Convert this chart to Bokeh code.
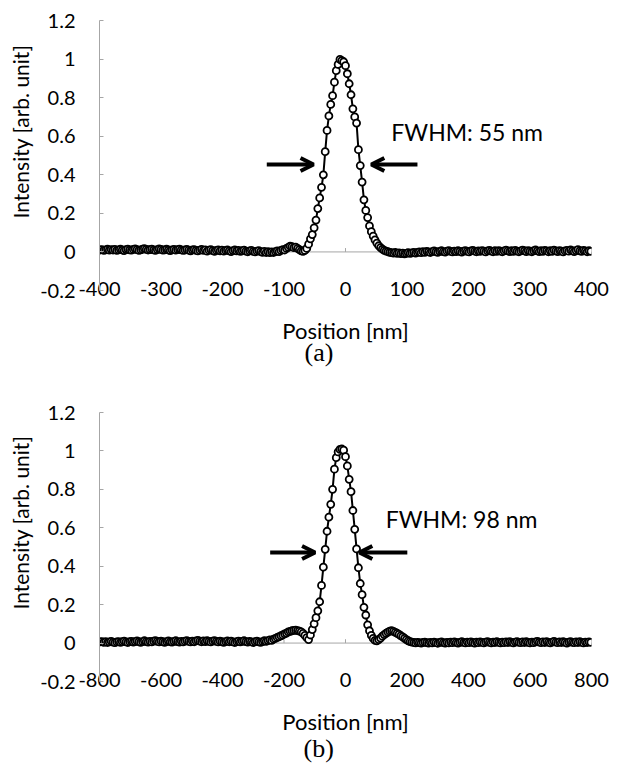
from bokeh.plotting import figure
from bokeh.layouts import column
from bokeh.models import (Range1d, FixedTicker, CustomJSTickFormatter, Span,
                          Arrow, OpenHead, Label, Title)
from bokeh.embed import file_html
from bokeh.resources import INLINE

# ---------------- data ----------------
pos_a = [-399,-396,-393,-390,-387,-384,-381,-378,-375,-372,
         -369,-366,-363,-360,-357,-354,-351,-348,-345,-342,
         -339,-336,-333,-330,-327,-324,-321,-318,-315,-312,
         -309,-306,-303,-300,-297,-294,-291,-288,-285,-282,
         -279,-276,-273,-270,-267,-264,-261,-258,-255,-252,
         -249,-246,-243,-240,-237,-234,-231,-228,-225,-222,
         -219,-216,-213,-210,-207,-204,-201,-198,-195,-192,
         -189,-186,-183,-180,-177,-174,-171,-168,-165,-162,
         -159,-156,-153,-150,-147,-144,-141,-138,-135,-132,
         -129,-126,-123,-120,-117,-114,-111,-108,-105,-102,
         -99,-96,-93,-90,-87,-84,-81,-78,-75,-72,
         -69,-66,-63,-60,-57,-54,-51,-48,-45,-42,
         -39,-36,-33,-30,-27,-24,-21,-18,-15,-12,
         -9,-6,-3,0,3,6,9,12,15,18,
         21,24,27,30,33,36,39,42,45,48,
         51,54,57,60,63,66,69,72,75,78,
         81,84,87,90,93,96,99,102,105,108,
         111,114,117,120,123,126,129,132,135,138,
         141,144,147,150,153,156,159,162,165,168,
         171,174,177,180,183,186,189,192,195,198,
         201,204,207,210,213,216,219,222,225,228,
         231,234,237,240,243,246,249,252,255,258,
         261,264,267,270,273,276,279,282,285,288,
         291,294,297,300,303,306,309,312,315,318,
         321,324,327,330,333,336,339,342,345,348,
         351,354,357,360,363,366,369,372,375,378,
         381,384,387,390,393,396,399]

int_a = [0.010,0.012,0.008,0.011,0.014,0.009,0.012,0.010,0.013,0.008,
         0.011,0.014,0.010,0.007,0.012,0.015,0.011,0.009,0.013,0.016,
         0.012,0.008,0.011,0.014,0.017,0.013,0.010,0.012,0.015,0.011,
         0.008,0.012,0.016,0.013,0.009,0.011,0.014,0.010,0.007,0.011,
         0.013,0.009,0.012,0.015,0.011,0.008,0.010,0.013,0.009,0.006,
         0.010,0.012,0.008,0.005,0.009,0.013,0.008,0.011,0.004,0.009,
         0.012,0.007,0.003,0.008,0.011,0.006,0.009,0.004,0.008,0.010,
         0.005,0.002,0.007,0.010,0.005,0.008,0.003,0.006,0.009,0.004,
         0.001,0.005,0.008,0.003,0.000,0.004,0.007,0.002,-0.002,0.003,
         -0.003,0.001,-0.004,0.000,-0.003,0.002,0.005,0.002,0.008,0.012,
         0.010,0.018,0.024,0.030,0.027,0.022,0.025,0.018,0.012,0.006,
         0.003,0.008,0.018,0.040,0.068,0.090,0.125,0.165,0.225,0.280,
         0.335,0.400,0.520,0.630,0.705,0.765,0.810,0.880,0.940,0.972,
         0.998,0.992,0.986,0.966,0.924,0.872,0.815,0.742,0.700,0.668,
         0.530,0.448,0.362,0.270,0.215,0.178,0.135,0.105,0.082,0.062,
         0.046,0.032,0.022,0.014,0.008,0.004,0.001,-0.002,-0.004,-0.006,
         -0.003,-0.008,-0.005,-0.009,-0.006,-0.010,-0.007,-0.004,-0.008,-0.005,
         -0.002,-0.006,-0.003,0.000,-0.004,0.001,-0.002,0.003,0.000,-0.003,
         0.002,0.005,0.001,-0.002,0.003,0.006,0.002,-0.001,0.004,0.007,
         0.003,0.000,0.004,0.002,0.006,0.003,-0.001,0.004,0.007,0.003,
         0.000,0.005,0.008,0.004,0.001,0.005,0.003,0.007,0.004,0.000,
         0.005,0.008,0.004,0.001,0.006,0.003,0.007,0.004,0.001,0.005,
         0.009,0.005,0.002,0.006,0.003,0.008,0.004,0.001,0.005,0.009,
         0.006,0.002,0.007,0.004,0.001,0.006,0.010,0.005,0.002,0.006,
         0.003,0.008,0.005,0.001,0.006,0.003,0.009,0.005,0.002,0.007,
         0.004,0.000,0.005,0.008,0.004,0.010,0.006,0.002,0.007,0.012,
         0.006,0.003,0.008,0.005,0.001,0.006,0.003]

pos_b = [-798,-792,-786,-780,-774,-768,-762,-756,-750,-744,
         -738,-732,-726,-720,-714,-708,-702,-696,-690,-684,
         -678,-672,-666,-660,-654,-648,-642,-636,-630,-624,
         -618,-612,-606,-600,-594,-588,-582,-576,-570,-564,
         -558,-552,-546,-540,-534,-528,-522,-516,-510,-504,
         -498,-492,-486,-480,-474,-468,-462,-456,-450,-444,
         -438,-432,-426,-420,-414,-408,-402,-396,-390,-384,
         -378,-372,-366,-360,-354,-348,-342,-336,-330,-324,
         -318,-312,-306,-300,-294,-288,-282,-276,-270,-264,
         -258,-252,-246,-240,-234,-228,-222,-216,-210,-204,
         -198,-192,-186,-180,-174,-168,-162,-156,-150,-144,
         -138,-132,-126,-120,-114,-108,-102,-96,-90,-84,
         -78,-72,-66,-60,-54,-48,-42,-36,-30,-24,
         -18,-12,-6,0,6,12,18,24,30,36,
         42,48,54,60,66,72,78,84,90,96,
         102,108,114,120,126,132,138,144,150,156,
         162,168,174,180,186,192,198,204,210,216,
         222,228,234,240,246,252,258,264,270,276,
         282,288,294,300,306,312,318,324,330,336,
         342,348,354,360,366,372,378,384,390,396,
         402,408,414,420,426,432,438,444,450,456,
         462,468,474,480,486,492,498,504,510,516,
         522,528,534,540,546,552,558,564,570,576,
         582,588,594,600,606,612,618,624,630,636,
         642,648,654,660,666,672,678,684,690,696,
         702,708,714,720,726,732,738,744,750,756,
         762,768,774,780,786,792,798]

int_b = [0.006,0.008,0.004,0.007,0.003,0.006,0.009,0.005,0.002,0.006,
         0.008,0.004,0.007,0.010,0.006,0.003,0.007,0.009,0.005,0.008,
         0.011,0.007,0.004,0.008,0.012,0.008,0.005,0.009,0.006,0.010,
         0.013,0.009,0.006,0.010,0.007,0.004,0.008,0.011,0.007,0.005,
         0.009,0.012,0.008,0.005,0.009,0.006,0.010,0.013,0.009,0.006,
         0.010,0.007,0.011,0.014,0.010,0.007,0.011,0.008,0.012,0.009,
         0.006,0.010,0.013,0.009,0.006,0.010,0.007,0.004,0.008,0.011,
         0.007,0.010,0.006,0.003,0.007,0.010,0.006,0.009,0.012,0.008,
         0.005,0.009,0.006,0.003,0.007,0.010,0.006,0.004,0.008,0.012,
         0.009,0.013,0.017,0.014,0.020,0.024,0.029,0.033,0.038,0.042,
         0.048,0.052,0.058,0.061,0.064,0.066,0.067,0.065,0.062,0.058,
         0.050,0.040,0.028,0.018,0.042,0.070,0.100,0.132,0.168,0.215,
         0.300,0.395,0.488,0.582,0.655,0.722,0.800,0.905,0.965,0.995,
         1.008,1.010,1.004,0.970,0.922,0.852,0.788,0.690,0.592,0.490,
         0.392,0.310,0.252,0.186,0.146,0.095,0.064,0.040,0.024,0.014,
         0.012,0.018,0.026,0.036,0.044,0.051,0.057,0.062,0.064,0.061,
         0.056,0.051,0.045,0.038,0.032,0.025,0.018,0.012,0.008,0.005,
         0.003,0.001,0.004,0.002,0.000,0.003,0.005,0.002,0.000,0.004,
         0.001,0.005,0.002,-0.001,0.003,0.006,0.002,0.000,0.004,0.001,
         0.005,0.002,0.006,0.003,0.000,0.004,0.007,0.003,0.001,0.005,
         0.002,0.006,0.003,0.000,0.005,0.002,0.006,0.004,0.001,0.005,
         0.008,0.004,0.001,0.005,0.003,0.007,0.004,0.001,0.005,0.002,
         0.006,0.003,0.007,0.004,0.001,0.005,0.008,0.004,0.002,0.006,
         0.003,0.007,0.004,0.001,0.005,0.002,0.006,0.009,0.005,0.002,
         0.006,0.003,0.008,0.004,0.001,0.005,0.009,0.005,0.002,0.006,
         0.003,0.007,0.004,0.000,0.005,0.008,0.004,0.002,0.006,0.003,
         0.007,0.004,0.001,0.005,0.003,0.006,0.004]

xticks_a = [-400, -300, -200, -100, 0, 100, 200, 300, 400]
xticks_b = [-800, -600, -400, -200, 0, 200, 400, 600, 800]
yticks = [-0.2, 0, 0.2, 0.4, 0.6, 0.8, 1.0, 1.2]

x_title = "Position [nm]"
y_title = "Intensity [arb. unit]"
fwhm_a = "FWHM: 55 nm"
fwhm_b = "FWHM: 98 nm"

assert len(pos_a) == len(int_a)
assert len(pos_b) == len(int_b)

FONT = "Lato"
GRAY = "#a6a6a6"


def panel(xs, ys, xr, xticks, borders, arrow_y, arrows, fw_text, fw_xy, tag, tag_offset, tag_standoff):
    left, right, top, bottom = borders
    p = figure(width=620, height=389, output_backend="svg", toolbar_location=None,
               x_range=Range1d(-xr, xr), y_range=Range1d(-0.2, 1.2),
               min_border_left=left, min_border_right=right,
               min_border_top=top, min_border_bottom=bottom)
    p.xgrid.visible = False
    p.ygrid.visible = False
    p.outline_line_color = None
    p.background_fill_color = "white"
    p.border_fill_color = "white"

    # y axis
    ya = p.yaxis[0]
    ya.ticker = FixedTicker(ticks=yticks)
    ya.formatter = CustomJSTickFormatter(code="return tick.toFixed(1).replace(/\\.0$/, '');")
    ya.axis_line_color = GRAY
    ya.major_tick_line_color = GRAY
    ya.major_tick_in = 4
    ya.major_tick_out = 0
    ya.minor_tick_line_color = None
    ya.major_label_standoff = 24
    ya.major_label_text_font = FONT
    ya.major_label_text_font_size = "20px"
    ya.major_label_text_color = "black"

    # y title as a left-side title (lets it sit off-centre like the original)
    p.add_layout(Title(text=y_title, align="left", offset=72, standoff=10,
                       text_font=FONT, text_font_size="21px",
                       text_font_style="normal", text_color="black"), "left")

    # x axis (labels only, at the bottom)
    xa = p.xaxis[0]
    xa.ticker = FixedTicker(ticks=xticks)
    xa.formatter = CustomJSTickFormatter(code="return tick.toFixed(0);")
    xa.axis_line_color = None
    xa.major_tick_line_color = None
    xa.minor_tick_line_color = None
    xa.major_tick_in = 0
    xa.major_tick_out = 0
    xa.major_label_standoff = -9
    xa.major_label_text_font = FONT
    xa.major_label_text_font_size = "20px"
    xa.major_label_text_color = "black"
    xa.axis_label = x_title
    xa.axis_label_text_font = FONT
    xa.axis_label_text_font_size = "22px"
    xa.axis_label_text_font_style = "normal"
    xa.axis_label_text_color = "black"
    xa.axis_label_standoff = 18

    # panel tag below the axis title
    p.add_layout(Title(text=tag, align="left", offset=tag_offset, standoff=tag_standoff,
                       vertical_align="top",
                       text_font="Liberation Serif", text_font_size="26px",
                       text_font_style="normal", text_color="black"), "below")

    # horizontal axis line at zero with small ticks
    p.add_layout(Span(location=0, dimension="width", line_color=GRAY,
                      line_width=1, level="underlay"))
    p.segment(x0=xticks, y0=[0] * len(xticks), x1=xticks, y1=[0.02] * len(xticks),
              line_color=GRAY, line_width=1)

    # data
    p.line(xs, ys, line_color="black", line_width=2)
    p.scatter(xs, ys, marker="circle", size=7, fill_color="white",
              line_color="black", line_width=1.8)

    # FWHM arrows
    for (xs0, xe0) in arrows:
        p.add_layout(Arrow(end=OpenHead(size=13, line_width=4, line_color="black"),
                           x_start=xs0, y_start=arrow_y, x_end=xe0, y_end=arrow_y,
                           line_width=4, line_color="black"))
    p.add_layout(Label(x=fw_xy[0], y=fw_xy[1], text=fw_text, text_font=FONT,
                       text_font_size="23px", text_color="black",
                       text_align="left", text_baseline="middle"))
    return p


pa = panel(pos_a, int_a, 400, xticks_a, (97, 29, 20, 99), 0.453,
           [(-128, -52), (117, 42)], fwhm_a, (74.5, 0.624), "(a)", 205, -18)
pb = panel(pos_b, int_b, 800, xticks_b, (98, 20, 23, 97), 0.471,
           [(-245, -99), (201, 45)], fwhm_b, (130.7, 0.648), "(b)", 204, -8)

layout = column(pa, pb, spacing=0)
open("out.html", "w").write(file_html(layout, INLINE))
